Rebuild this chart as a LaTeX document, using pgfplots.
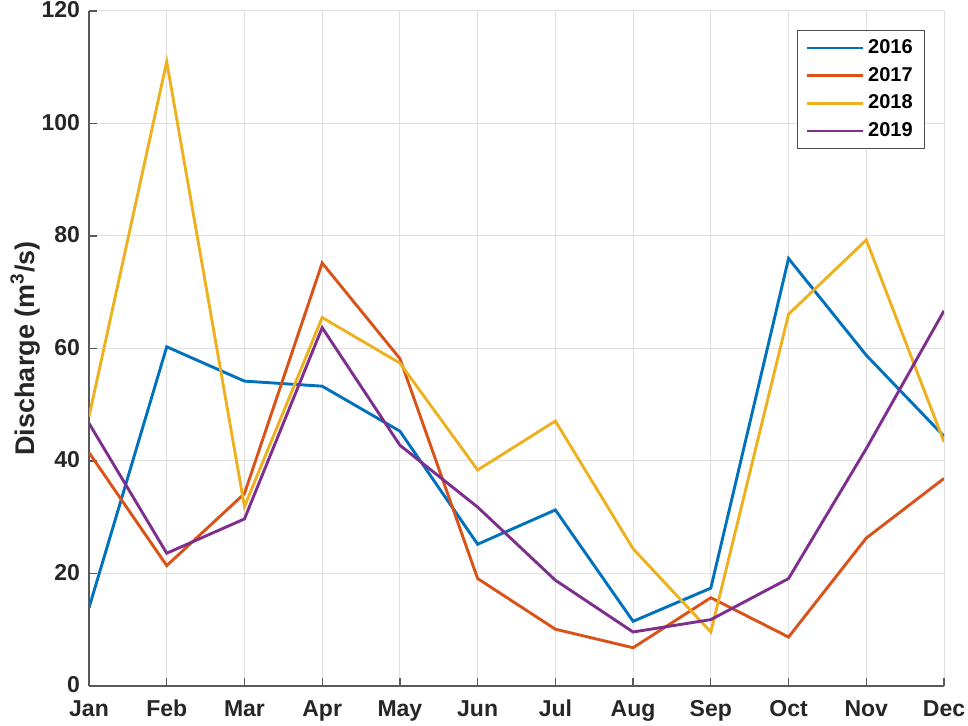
\documentclass[border=0pt]{standalone}
\usepackage{pgfplots}
\pgfplotsset{compat=1.18}
\usepackage{fontspec}
\setmainfont{Liberation Sans}
\definecolor{c1}{rgb}{0,0.447,0.741}
\definecolor{c2}{rgb}{0.85,0.325,0.098}
\definecolor{c3}{rgb}{0.929,0.694,0.125}
\definecolor{c4}{rgb}{0.494,0.184,0.556}
\begin{document}
\begin{tikzpicture}[x=1pt,y=1pt]
\begin{axis}[name=ax,
  scale only axis, width=427.5pt, height=337.5pt,
  xmin=0, xmax=11, ymin=0, ymax=120,
  xtick={0,...,11},
  xticklabels={Jan,Feb,Mar,Apr,May,Jun,Jul,Aug,Sep,Oct,Nov,Dec},
  ytick={0,20,...,120},
  axis lines=left,
  axis line style={-, draw=black!65, line width=0.6pt},
  tick style={draw=black!65, line width=0.6pt},
  major tick length=4pt,
  tick align=inside,
  grid=major,
  grid style={draw=black!12, line width=0.5pt},
  /pgf/number format/assume math mode=true,
  tick label style={font=\fontsize{11.5}{13}\selectfont\bfseries, text=black!85},
  xticklabel style={anchor=north, text height=8.5pt, text depth=0pt, yshift=-3pt},
  yticklabel style={xshift=-1pt, yshift=0.5pt},
  ylabel={Discharge (m\textsuperscript{3}/s)},
  ylabel style={font=\fontsize{13.5}{15}\selectfont\bfseries, text=black!85, yshift=-6pt},
  legend style={at={(0.978,0.972)}, anchor=north east, draw=black!70, line width=0.5pt,
    font=\fontsize{10}{12}\selectfont\bfseries, inner xsep=4pt, inner ysep=2.5pt,
    row sep=1.4pt},
  legend cell align=left,
  legend image code/.code={\draw[#1, line width=1.3pt] (0pt,0pt) -- (28pt,0pt);},
  every axis plot/.append style={line width=1.45pt},
]
\addplot[c1] coordinates {(0,13.9)(1,60.3)(2,54.2)(3,53.3)(4,45.3)(5,25.2)(6,31.3)(7,11.5)(8,17.4)(9,76.0)(10,58.8)(11,44.4)};
\addplot[c2] coordinates {(0,41.5)(1,21.4)(2,34.2)(3,75.2)(4,58.2)(5,19.1)(6,10.1)(7,6.8)(8,15.7)(9,8.7)(10,26.3)(11,36.9)};
\addplot[c3] coordinates {(0,47.9)(1,111.0)(2,31.9)(3,65.5)(4,57.4)(5,38.4)(6,47.1)(7,24.4)(8,9.6)(9,66.1)(10,79.3)(11,43.4)};
\addplot[c4] coordinates {(0,46.7)(1,23.6)(2,29.7)(3,63.7)(4,42.8)(5,31.8)(6,18.8)(7,9.6)(8,11.8)(9,19.1)(10,42.2)(11,66.7)};
\legend{2016,2017,2018,2019}
\end{axis}
\pgfresetboundingbox
\path ([xshift=-44.5pt, yshift=-20pt]ax.south west) rectangle ([xshift=12pt, yshift=5.5pt]ax.north east);
\end{tikzpicture}
\end{document}
